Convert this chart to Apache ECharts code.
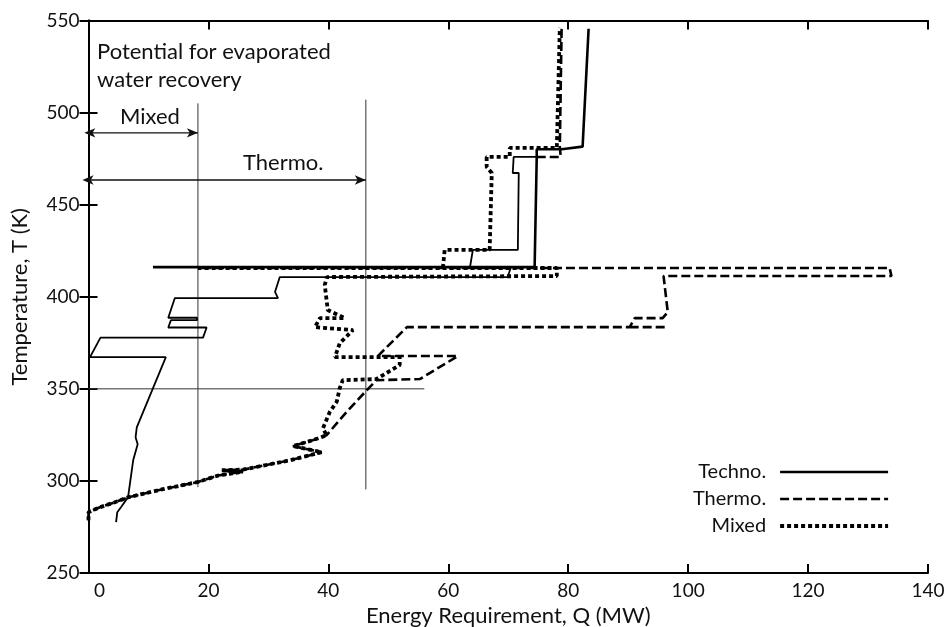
<!DOCTYPE html>
<html>
<head>
<meta charset="utf-8">
<script src="https://cdn.jsdelivr.net/npm/echarts@6/dist/echarts.min.js"></script>
<style>
html,body{margin:0;padding:0;background:#fff;}
#c{width:946px;height:627px;}
</style>
</head>
<body>
<div id="c"></div>
<script>
// ---- axis settings ----
const xTicks = [0, 20, 40, 60, 80, 100, 120, 140];
const yTicks = [250, 300, 350, 400, 450, 500, 550];
const seriesNames = ['Techno.', 'Thermo.', 'Mixed'];

// ---- data: [Q (MW), T (K)] ----
const sharedBottom = [[0,278.6],[0,283.0],[1.9,285.7],[4.4,288.4],[6.6,291.1],[12.4,295.5],[18.1,299.3],[21.6,302.9],[25.75,305.0],[22.25,305.8],[25.75,306.1],[33.6,311.2],[38.9,315.6],[34.1,318.9],[37.4,322.1],[39.7,324.8]];

const thermoMid = [[43.0,337.3],[46.1,348.2],[48.0,354.7],[55.25,355.3],[61.6,367.8],[48.25,367.8],[53.1,383.5],[90.25,383.5],[91.1,388.4],[95.75,388.4],[96.6,391.7],[95.9,411.25],[133.9,411.25],[133.6,415.6],[18.25,415.6]];
const thermoStub = [[90.25,383.5],[96.6,383.5]];
const thermoTop = [[74.75,475.9],[78.75,475.9],[78.6,481.4],[78.9,546]];

const mixedMid = [[39.1,328.6],[40.25,337.5],[41.4,343.0],[41.9,350.4],[42.4,354.7],[48.0,355.3],[51.9,362.9],[51.9,367.2],[41.1,367.2],[41.9,374.8],[44.1,381.9],[37.75,383.5],[38.6,388.4],[42.75,388.4],[39.9,392.8],[39.4,406.4],[39.75,410.7],[78.1,411.25],[78.1,415.6],[18.25,415.6]];
const mixedTop = [[59.1,415.6],[59.4,425.4],[66.9,425.4],[67.25,467.2],[66.4,470.5],[66.4,475.9],[70.25,475.9],[70.25,480.8],[78.1,480.8],[78.6,546]];

const technoMain = [[10.75,416.1],[74.4,416.1],[74.75,475.9],[74.75,480.1],[78.9,480.1],[82.4,481.5],[83.4,545.5]];
const technoThin = [[4.6,277.6],[4.8,283.0],[5.5,286.1],[6.6,291.2],[7.45,311.2],[8.2,319.9],[7.85,323.7],[8.05,329.1],[12.9,367.2],[0.25,367.2],[2.0,377.8],[19.1,377.8],[19.7,383.3],[13.3,383.3],[13.75,387.3],[18.1,387.3],[18.1,388.6],[13.3,388.6],[14.4,399.3],[31.6,399.3],[31.1,402.6],[31.9,410.7],[69.9,410.7],[70.4,415.6],[63.6,415.6],[64.1,425.4],[71.6,425.4],[71.75,467.2],[70.75,467.2],[70.9,475.9],[74.75,475.9]];

// reference lines and arrows
const mixedLimitQ = 18.25;
const thermoLimitQ = 46.25;
const refV1 = [[mixedLimitQ,296.6],[mixedLimitQ,505]];
const refV2 = [[thermoLimitQ,295.4],[thermoLimitQ,507]];
const refH = [[0,350],[56,350]];
const mixedArrow = [[-0.7,489],[mixedLimitQ,489]];
const thermoArrow = [[-1.0,463.4],[thermoLimitQ,463.4]];

const BRK = ['-','-'];
const FONT = 'Lato, "DejaVu Sans", sans-serif';

const chart = echarts.init(document.getElementById('c'));

function thinLine(data){
  return {type:'line', data:data, symbol:'none', silent:true, z:1,
    lineStyle:{color:'#333', width:1, type:'solid'}};
}
function arrow(data){
  return {type:'line', silent:true, clip:false, z:2, showSymbol:true,
    itemStyle:{color:'#111'},
    lineStyle:{color:'#111', width:1.3, type:'solid'},
    data:[
      {value:data[0], symbol:'arrow', symbolRotate:90, symbolSize:[7,11]},
      {value:data[1], symbol:'arrow', symbolRotate:-90, symbolSize:[7,11]}
    ]};
}

chart.setOption({
  animation:false,
  backgroundColor:'#fff',
  textStyle:{fontFamily:FONT},
  grid:{left:88.5, right:18, top:20.5, bottom:54, containLabel:false, outerBoundsMode:'none'},
  legend:{
    orient:'vertical', right:51, top:457, align:'right',
    itemWidth:108, itemHeight:14, itemGap:7,
    itemStyle:{opacity:0},
    lineStyle:{width:'inherit'},
    textStyle:{fontSize:20, fontFamily:FONT, color:'#111', padding:[0,9,0,0]},
    data:seriesNames
  },
  xAxis:[{
    type:'value', min:xTicks[0], max:xTicks[xTicks.length-1], interval:20,
    name:'Energy Requirement, Q (MW)', nameLocation:'middle', nameGap:24,
    nameTextStyle:{fontSize:22, fontFamily:FONT, color:'#111'},
    axisLine:{show:true, lineStyle:{color:'#000', width:2}},
    axisTick:{show:true, inside:true, length:9, lineStyle:{color:'#000', width:2}},
    axisLabel:{fontSize:19, fontFamily:FONT, color:'#111', margin:8,
      formatter:function(v){ return v===0 ? '{z|0}' : String(v); },
      rich:{z:{fontSize:19, fontFamily:FONT, color:'#111', padding:[0,0,0,22]}}},
    splitLine:{show:false}
  },{
    type:'value', position:'top', min:xTicks[0], max:xTicks[xTicks.length-1], interval:20,
    axisLine:{show:true, lineStyle:{color:'#000', width:2}},
    axisTick:{show:true, inside:true, length:9, lineStyle:{color:'#000', width:2}},
    axisLabel:{show:false}, splitLine:{show:false}
  }],
  yAxis:[{
    type:'value', min:yTicks[0], max:yTicks[yTicks.length-1], interval:50,
    name:'Temperature, T (K)', nameLocation:'middle', nameGap:58, nameRotate:90,
    nameTextStyle:{fontSize:22, fontFamily:FONT, color:'#111'},
    axisLine:{show:true, lineStyle:{color:'#000', width:2}},
    axisTick:{show:true, inside:true, length:9, lineStyle:{color:'#000', width:2}},
    axisLabel:{fontSize:19, fontFamily:FONT, color:'#111', margin:9},
    splitLine:{show:false}
  },{
    type:'value', position:'right', min:yTicks[0], max:yTicks[yTicks.length-1], interval:50,
    axisLine:{show:true, lineStyle:{color:'#000', width:2}},
    axisTick:{show:true, inside:true, length:9, lineStyle:{color:'#000', width:2}},
    axisLabel:{show:false}, splitLine:{show:false}
  }],
  graphic:[
    {type:'text', left:97, top:41, style:{text:'Potential for evaporated', font:'22px '+FONT, fill:'#111'}},
    {type:'text', left:97, top:69, style:{text:'water recovery', font:'22px '+FONT, fill:'#111'}},
    {type:'text', left:120, top:106, style:{text:'Mixed', font:'22px '+FONT, fill:'#111'}},
    {type:'text', left:243, top:152, style:{text:'Thermo.', font:'22px '+FONT, fill:'#111'}}
  ],
  series:[
    thinLine(refV1), thinLine(refV2), thinLine(refH),
    arrow(mixedArrow), arrow(thermoArrow),
    {name:'Techno.', type:'line', symbol:'none', z:3,
      data: technoMain, itemStyle:{color:'#000'},
      lineStyle:{color:'#000', width:2.6, type:'solid'}},
    {name:'TechnoThin', type:'line', symbol:'none', z:3, silent:true,
      data: technoThin, itemStyle:{color:'#000'},
      lineStyle:{color:'#000', width:1.8, type:'solid'}},
    {name:'Thermo.', type:'line', symbol:'none', z:4, connectNulls:false,
      data: sharedBottom.concat(thermoMid, [BRK], thermoStub, [BRK], thermoTop), itemStyle:{color:'#000'},
      lineStyle:{color:'#000', width:2.6, type:[9,4], cap:'butt'}},
    {name:'Mixed', type:'line', symbol:'none', z:5, connectNulls:false,
      data: sharedBottom.concat(mixedMid, [BRK], mixedTop), itemStyle:{color:'#000'},
      lineStyle:{color:'#000', width:3.8, type:[4,3], cap:'butt'}}
  ]
});
</script>
</body>
</html>
